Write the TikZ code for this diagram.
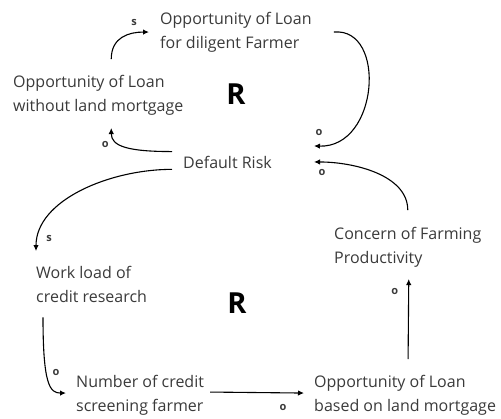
\documentclass[tikz,border=0pt]{standalone}
\usepackage{fontspec}
\setmainfont{Open Sans}
\usetikzlibrary{arrows.meta}
\definecolor{txtgray}{HTML}{3A3A3A}
\begin{document}
\begin{tikzpicture}[x=1pt, y=-1pt,
    var/.style={anchor=base west, inner sep=0pt, align=left, text=txtgray, font=\fontsize{16}{23.5}\selectfont},
    loopsign/.style={font=\fontsize{29}{29}\selectfont\bfseries, inner sep=0pt, anchor=base},
    link/.style={line width=1.1pt, -{Latex[length=6pt,width=5.5pt]}},
    pol/.style={font=\fontsize{11}{11}\selectfont\bfseries, text=txtgray, inner sep=0pt}]
      \useasboundingbox (0,0) rectangle (501,418);
      % Variables (placed at the baseline of their last line)
      \node[var] (dil) at (160,48) {Opportunity of Loan\\for diligent Farmer};
      \node[var] (wlm) at (13,111) {Opportunity of Loan\\without land mortgage};
      \node[var] (risk) at (183,168) {Default Risk};
      \node[var] (concern) at (334,263) {Concern of Farming\\Productivity};
      \node[var] (work) at (36,302) {Work load of\\credit research};
      \node[var] (number) at (76,411) {Number of credit\\screening farmer};
      \node[var] (based) at (314,411) {Opportunity of Loan\\based on land mortgage};
      % Loop markers
      \node[loopsign] (r1) at (236,104) {R};
      \node[loopsign] (r2) at (237,313) {R};
      % Upper loop
      \draw[link] ([xshift=13pt,yshift=16pt]wlm.north) .. controls +(0,-22) and +(-20,0) .. ([xshift=-11pt]dil.west)
        node[pol, pos=1, xshift=-15pt, yshift=10pt] {s};
      \draw[link] ([xshift=22pt]dil.east) .. controls +(53,-5) and +(65,2) .. ([xshift=42pt,yshift=16pt]risk.east)
        node[pol, pos=1, xshift=5pt, yshift=13pt] {o};
      \draw[link] ([xshift=-11pt,yshift=4pt]risk.north west) .. controls +(-45,0) and +(0,18) .. ([xshift=13pt,yshift=-13pt]wlm.south)
        node[pol, pos=1, xshift=-6pt, yshift=-16pt] {o};
      % Lower loop
      \draw[link] ([xshift=-11pt,yshift=-1pt]risk.south west) .. controls +(-62,0) and +(0,-51) .. ([yshift=15pt]work.north west)
        node[pol, pos=1, xshift=13pt, yshift=13pt] {s};
      \draw[link] ([xshift=7pt,yshift=-15pt]work.south west) .. controls +(0,68) and +(-16,0) .. ([xshift=-10pt,yshift=2pt]number.west)
        node[pol, pos=1, xshift=-10pt, yshift=21pt] {o};
      \draw[link] ([xshift=6pt,yshift=3pt]number.east) -- ([xshift=-10pt,yshift=2pt]based.west)
        node[pol, pos=1, xshift=-21pt, yshift=-14pt] {o};
      \draw[link] ([xshift=3pt,yshift=16pt]based.north) -- ([xshift=1pt,yshift=-12pt]concern.south)
        node[pol, pos=1, xshift=-14pt, yshift=-12pt] {o};
      \draw[link] ([yshift=17pt]concern.north) .. controls +(0,-35) and +(40,0) .. ([xshift=42pt]risk.east)
        node[pol, pos=1, xshift=8pt, yshift=-11pt] {o};
\end{tikzpicture}
\end{document}
